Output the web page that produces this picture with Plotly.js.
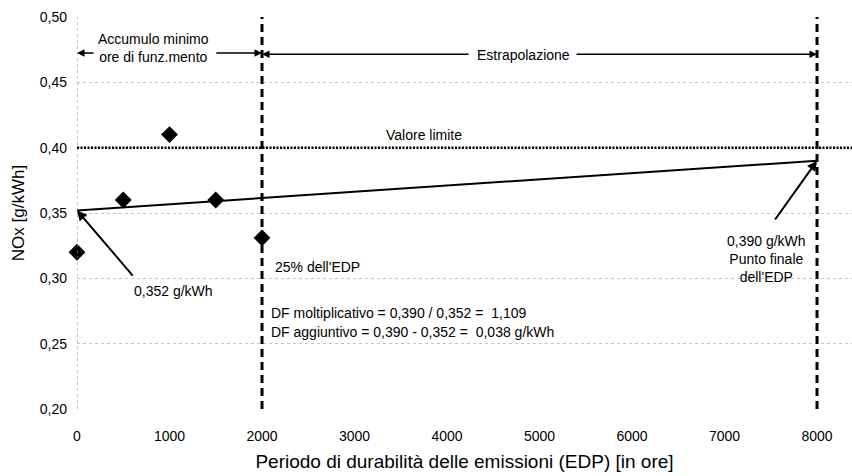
<!DOCTYPE html>
<html>
<head>
<meta charset="utf-8">
<script src="https://cdn.plot.ly/plotly-3.0.1.min.js"></script>
<style>html,body{margin:0;padding:0;background:#fff;}#chart{width:852px;height:476px;}</style>
</head>
<body>
<div id="chart"></div>
<script>
// Data
const hours = [0, 500, 1000, 1500, 2000];
const noxValues = [0.320, 0.360, 0.410, 0.360, 0.331];
const regHours = [0, 8000];
const regValues = [0.352, 0.390];
const limitValue = 0.40;
const edpMarks = [2000, 8000];
const xTicks = [0, 1000, 2000, 3000, 4000, 5000, 6000, 7000, 8000];
const yTicks = [0.20, 0.25, 0.30, 0.35, 0.40, 0.45, 0.50];

const FONT = '"Liberation Sans", Arial, sans-serif';

const traces = [
  {
    x: regHours, y: regValues, mode: 'lines', type: 'scatter',
    line: {color: '#000', width: 2}, hoverinfo: 'skip', showlegend: false
  },
  {
    x: hours, y: noxValues, mode: 'markers', type: 'scatter',
    marker: {symbol: 'diamond', size: 13, color: '#000'},
    cliponaxis: false, showlegend: false
  }
];

const shapes = [
  // left axis (dotted)
  {type: 'line', xref: 'x', yref: 'paper', x0: 0, x1: 0, y0: 0, y1: 1,
   line: {color: '#888', width: 1, dash: 'dot'}},
  // limit line
  {type: 'line', xref: 'paper', yref: 'y', x0: 0, x1: 1, y0: limitValue, y1: limitValue,
   line: {color: '#000', width: 2.5, dash: '2px,1.5px'}}
];
edpMarks.forEach(v => shapes.push({
  type: 'line', xref: 'x', yref: 'y', x0: v, x1: v, y0: yTicks[0], y1: yTicks[yTicks.length - 1],
  line: {color: '#000', width: 3, dash: '8px,5px'}
}));

const tf = {family: FONT, size: 14, color: '#000'};
function arrow(xh, yh, xt, yt) {
  return {x: xh, y: yh, ax: xt, ay: yt, xref: 'x', yref: 'y', axref: 'x', ayref: 'y',
          text: '', showarrow: true, arrowhead: 2, arrowsize: 1, arrowwidth: 1.5, arrowcolor: '#000'};
}
const annotations = [
  {x: 822, y: 0.4763, xref: 'x', yref: 'y', text: 'Accumulo minimo<br>ore di funz.mento',
   showarrow: false, align: 'center', font: tf},
  arrow(0, 0.4725, 195, 0.4725),
  arrow(2000, 0.4725, 1490, 0.4725),
  {x: 4822, y: 0.4709, xref: 'x', yref: 'y', text: 'Estrapolazione', showarrow: false, font: tf},
  arrow(2000, 0.4715, 4249, 0.4715),
  arrow(8000, 0.4715, 5384, 0.4715),
  {x: 3751, y: 0.4097, xref: 'x', yref: 'y', text: 'Valore limite', showarrow: false, font: tf},
  {x: 595, y: 0.2903, xref: 'x', yref: 'y', text: '0,352 g/kWh', showarrow: false,
   xanchor: 'left', font: tf},
  {x: regHours[0], y: regValues[0], ax: 616, ay: 0.301, xref: 'x', yref: 'y', axref: 'x', ayref: 'y',
   text: '', showarrow: true, arrowhead: 2, arrowsize: 1, arrowwidth: 2, arrowcolor: '#000'},
  {x: 2119, y: 0.3087, xref: 'x', yref: 'y', text: "25% dell'EDP", showarrow: false,
   xanchor: 'left', font: tf},
  {x: 2076, y: 0.2735, xref: 'x', yref: 'y', text: 'DF moltiplicativo = 0,390 / 0,352 =  1,109',
   showarrow: false, xanchor: 'left', font: tf},
  {x: 2076, y: 0.2589, xref: 'x', yref: 'y', text: 'DF aggiuntivo = 0,390 - 0,352 =  0,038 g/kWh',
   showarrow: false, xanchor: 'left', font: tf},
  {x: 7449, y: 0.3148, xref: 'x', yref: 'y', text: "0,390 g/kWh<br>Punto finale<br>dell'EDP",
   showarrow: false, align: 'center', font: tf},
  {x: regHours[1], y: regValues[1], ax: 7535, ay: 0.3439, xref: 'x', yref: 'y', axref: 'x', ayref: 'y',
   text: '', showarrow: true, arrowhead: 2, arrowsize: 1, arrowwidth: 2, arrowcolor: '#000'}
];

const layout = {
  width: 852, height: 476,
  margin: {l: 77, r: 0, t: 17, b: 67},
  paper_bgcolor: '#fff', plot_bgcolor: '#fff',
  separators: ',.',
  font: {family: FONT, size: 14, color: '#000'},
  showlegend: false,
  xaxis: {
    range: [0, 8378], tickvals: xTicks, ticktext: xTicks.map(String),
    showgrid: false, zeroline: false, showline: false, ticks: '',
    ticklabelstandoff: 17, tickfont: {family: FONT, size: 14, color: '#000'},
    title: {text: 'Periodo di durabilità delle emissioni (EDP) [in ore]',
            font: {family: FONT, size: 19, color: '#000'}, standoff: 11}
  },
  yaxis: {
    range: [0.2, 0.5], tickvals: yTicks, tickformat: '.2f',
    showgrid: true, gridcolor: '#c4c4c4', gridwidth: 1, griddash: 'dot',
    zeroline: false, showline: false, ticks: '',
    ticklabelstandoff: 9, tickfont: {family: FONT, size: 14, color: '#000'},
    title: {text: 'NOx [g/kWh]', font: {family: FONT, size: 17, color: '#000'}, standoff: 10}
  },
  shapes: shapes,
  annotations: annotations
};

Plotly.newPlot('chart', traces, layout, {staticPlot: true, displayModeBar: false});
</script>
</body>
</html>
